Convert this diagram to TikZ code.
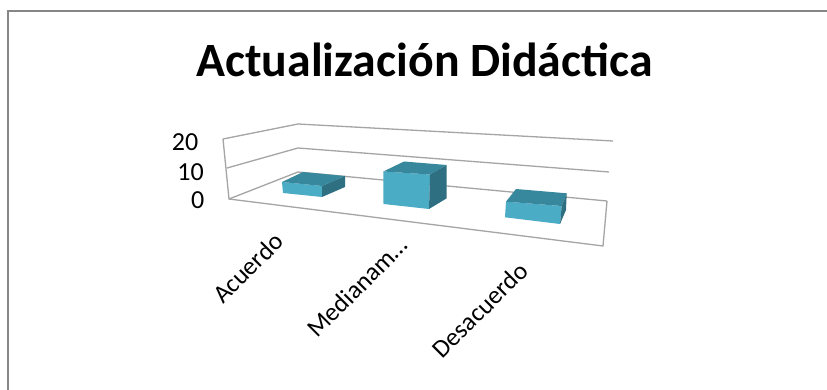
\documentclass[tikz,border=0pt]{standalone}
\usepackage{fontspec}
\setmainfont{Carlito}
\usepackage{xcolor}
\definecolor{barfront}{RGB}{75,172,198}
\definecolor{bartop}{RGB}{56,136,157}
\definecolor{barside}{RGB}{46,112,130}
\definecolor{framegray}{RGB}{134,134,134}
\definecolor{gridgray}{RGB}{165,165,165}

\begin{document}
\begin{tikzpicture}[x=1pt, y=-1pt,
		gridline/.style={gridgray, line width=1.3pt},
		frontface/.style={fill=barfront},
		topface/.style={fill=bartop},
		sideface/.style={fill=barside},
		ticklabel/.style={font=\fontsize{26}{26}\selectfont, inner sep=0pt, anchor=east},
		catlabel/.style={font=\fontsize{25.5}{25.5}\selectfont, inner sep=0pt, rotate=45}]
			\useasboundingbox (0,0) rectangle (827,390);
			\fill[white] (0,0) rectangle (827,390);
			\draw[framegray, line width=2pt] (7.7,390) -- (7.7,11) -- (827,11);
			\node[font=\fontsize{47.8}{50}\selectfont\bfseries, anchor=base, inner sep=0pt] (title) at (424.5,77) {Actualización Didáctica};
			\draw[gridline] (223,139) -- (298,124) -- (613,141);
			\draw[gridline] (227,168) -- (298,148) -- (609,172);
			\draw[gridline] (229,199) -- (298,172) -- (607,201);
			\draw[gridline] (223,139) -- (229,199) -- (603,246) -- (607,201);
			\fill[frontface] (282,182) -- (322,186) -- (322,197) -- (283,193) -- cycle;
			\fill[topface] (282,182) -- (303,172) -- (345,176) -- (322,186) -- cycle;
			\fill[sideface] (322,186) -- (345,176) -- (345,187) -- (322,197) -- cycle;
			\fill[frontface] (383.3,171.5) -- (430,174.5) -- (429,209) -- (383.5,204) -- cycle;
			\fill[topface] (383.3,171.5) -- (404,161.5) -- (446.7,165) -- (430,174.5) -- cycle;
			\fill[sideface] (430,174.5) -- (446.7,165) -- (446.7,198.3) -- (429,209) -- cycle;
			\fill[frontface] (506,201.7) -- (561.7,206) -- (560,224) -- (505,217.3) -- cycle;
			\fill[topface] (506,201.7) -- (516,189) -- (566.7,193.3) -- (561.7,206) -- cycle;
			\fill[sideface] (561.7,206) -- (566.7,193.3) -- (566,210) -- (560,224) -- cycle;
			\node[ticklabel] (t20) at (198.5,142.5) {20};
			\node[ticklabel] (t10) at (204,172.5) {10};
			\node[ticklabel] (t0) at (204.5,200) {0};
			\node[catlabel] (acuerdo) at (248,268) {Acuerdo};
			\node[catlabel] (medianamente) at (357,287) {Medianam…};
			\node[catlabel] (desacuerdo) at (480,310) {Desacuerdo};
		\end{tikzpicture}
\end{document}
